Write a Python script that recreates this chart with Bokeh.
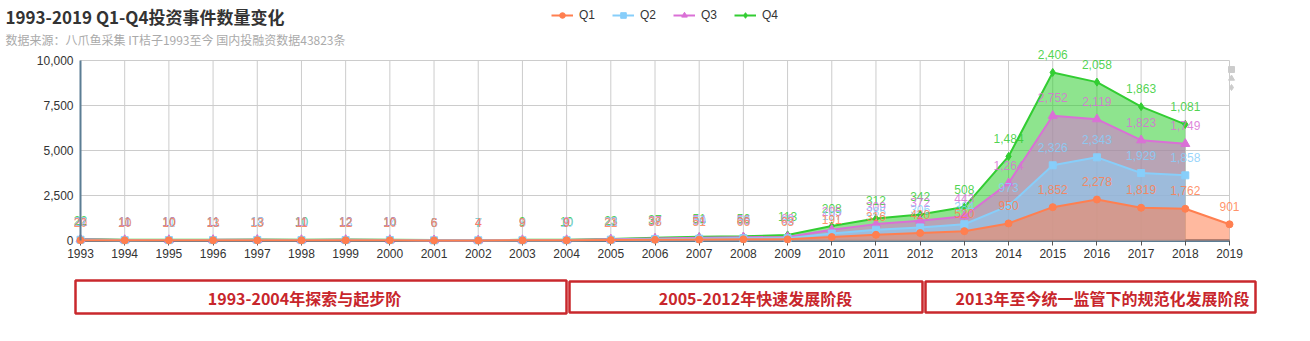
from bokeh.plotting import figure
from bokeh.models import (Range1d, FixedTicker, NumeralTickFormatter, Label, Legend, LegendItem)
from bokeh.embed import file_html
from bokeh.resources import INLINE
from bokeh.core.properties import value

years = list(range(1993, 2020))
q1 = [20, 10, 10, 13, 13, 11, 12, 10, 6, 4, 9, 9, 21, 38, 51, 66, 63, 191, 316, 420, 520, 950, 1852, 2278, 1819, 1762, 901]
q2 = [22, 10, 11, 11, 18, 10, 13, 14, 5, 7, 8, 10, 22, 36, 50, 58, 65, 197, 285, 306, 384, 973, 2326, 2343, 1929, 1858, None]
q3 = [21, 11, 10, 11, 13, 11, 12, 10, 6, 4, 9, 9, 23, 37, 54, 56, 69, 205, 309, 372, 443, 1264, 2752, 2119, 1823, 1749, None]
q4 = [22, 11, 10, 11, 13, 10, 12, 10, 6, 7, 9, 10, 23, 37, 51, 56, 113, 208, 312, 342, 508, 1484, 2406, 2058, 1863, 1081, None]
series_names = ["Q1", "Q2", "Q3", "Q4"]
y_ticks = [0, 2500, 5000, 7500, 10000]
title_text = "1993-2019 Q1-Q4投资事件数量变化"
subtitle_text = "数据来源：八爪鱼采集 IT桔子1993至今 国内投融资数据43823条"
phase_labels = ["1993-2004年探索与起步阶", "2005-2012年快速发展阶段", "2013年至今统一监管下的规范化发展阶段"]

colors = ["#ff7f50", "#87cefa", "#da70d6", "#32cd32"]
markers = ["circle", "square", "triangle", "diamond"]
msizes = [7, 7, 9, 8]

# ---- layout (pixels) ----
W, H = 1310, 341
PX_LEFT, PX_RIGHT, PX_TOP, PX_BOTTOM = 80, 1229, 60, 240
x_lo, x_hi = years[0], years[-1]
y_lo, y_hi = y_ticks[0], y_ticks[-1]
x_per_px = (x_hi - x_lo) / (PX_RIGHT - PX_LEFT)
y_per_px = (y_hi - y_lo) / (PX_BOTTOM - PX_TOP)
x_start = x_lo - PX_LEFT * x_per_px
x_end = x_hi + (W - PX_RIGHT) * x_per_px
y_end = y_hi + PX_TOP * y_per_px
y_start = y_lo - (H - PX_BOTTOM) * y_per_px


def dx(px):
    return x_start + px * x_per_px


def dy(py):
    return y_end - py * y_per_px


series = [q1, q2, q3, q4]
stacks = []
running = [0] * len(years)
for s in series:
    xs, tops, vals = [], [], []
    for j, v in enumerate(s):
        if v is None:
            continue
        running[j] += v
        xs.append(years[j])
        tops.append(running[j])
        vals.append(v)
    stacks.append((xs, tops, vals))

p = figure(width=W, height=H, x_range=Range1d(x_start, x_end), y_range=Range1d(y_start, y_end),
           toolbar_location=None, output_backend="svg",
           min_border_left=0, min_border_right=0, min_border_top=0, min_border_bottom=0)
p.outline_line_color = None
p.background_fill_color = "white"
p.xgrid.visible = False
p.ygrid.visible = False

# grid lines at the ticks
p.segment(x0=years, x1=years, y0=[y_lo] * len(years), y1=[y_hi] * len(years),
          line_color="#cccccc", line_width=1, level="underlay")
p.segment(x0=[x_lo] * (len(y_ticks) - 1), x1=[x_hi] * (len(y_ticks) - 1), y0=y_ticks[1:], y1=y_ticks[1:],
          line_color="#cccccc", line_width=1, level="underlay")

# areas: Q4 painted first, Q1 last
for i in [3, 2, 1, 0]:
    xs, tops, vals = stacks[i]
    p.varea(x=xs, y1=[0] * len(xs), y2=tops, fill_color=colors[i], fill_alpha=0.55)

rends = {}
for i in [3, 2, 1, 0]:
    xs, tops, vals = stacks[i]
    lr = p.line(xs, tops, line_color=colors[i], line_width=2)
    mr = p.scatter(xs, tops, marker=markers[i], size=msizes[i], fill_color=colors[i], line_color=colors[i])
    rends[i] = (lr, mr)

for i in [3, 2, 1, 0]:
    xs, tops, vals = stacks[i]
    p.text(x=xs, y=tops, text=[f"{v:,}" for v in vals], text_color=colors[i], text_alpha=0.85,
           text_align="center", text_baseline="middle", y_offset=-18,
           text_font=value("Liberation Sans"), text_font_size="12px")

# axes drawn at fixed locations inside the frame
p.xaxis.fixed_location = y_lo
p.yaxis.fixed_location = x_lo
p.xaxis.bounds = (x_lo, x_hi)
p.yaxis.bounds = (y_lo, y_hi)
p.xaxis.level = "underlay"
p.xaxis.ticker = FixedTicker(ticks=years)
p.yaxis.ticker = FixedTicker(ticks=y_ticks)
p.yaxis.formatter = NumeralTickFormatter(format="0,0")
for ax in (p.xaxis, p.yaxis):
    ax.axis_line_color = "#5b7d94"
    ax.axis_line_width = 2
    ax.major_label_text_font = "Liberation Sans"
    ax.major_label_text_font_size = "12px"
    ax.major_label_text_color = "#333333"
    ax.minor_tick_line_color = None
p.xaxis.axis_line_width = 3
p.xaxis.major_tick_in = 0
p.xaxis.major_tick_out = 5
p.xaxis.major_tick_line_color = "#555555"
p.xaxis.major_label_standoff = 3
p.yaxis.major_tick_line_color = None
p.yaxis.major_tick_in = 0
p.yaxis.major_tick_out = 0
p.yaxis.major_label_standoff = 7

# legend
items = [LegendItem(label=series_names[i], renderers=list(rends[i])) for i in range(4)]
legend = Legend(items=items, orientation="horizontal", location=(551, H - 22),
                border_line_color=None, background_fill_alpha=0,
                label_text_font="Liberation Sans", label_text_font_size="12px", label_text_color="#333333",
                glyph_width=22, glyph_height=14, label_height=14, label_standoff=6,
                spacing=13, padding=2, margin=0)
p.add_layout(legend)

# small grey symbols at the top right
p.scatter(x=[dx(1231)] * 3, y=[dy(69), dy(78), dy(87)], marker=["square", "triangle", "diamond"],
          size=6, fill_color="#cccccc", line_color="#cccccc")

# titles
p.add_layout(Label(x=5, y=H - 3, x_units="screen", y_units="screen", text=title_text,
                   text_font="Noto Sans CJK SC", text_font_size="17px", text_font_style="bold",
                   text_color="#333333", text_baseline="top"))
p.add_layout(Label(x=5, y=H - 30, x_units="screen", y_units="screen", text=subtitle_text,
                   text_font="Noto Sans CJK SC", text_font_size="12px",
                   text_color="#aaaaaa", text_baseline="top"))

# phase boxes
p.quad(left=[dx(75), dx(569), dx(925)], right=[dx(566), dx(922), dx(1255)],
       top=[dy(280), dy(281), dy(281)], bottom=[dy(313), dy(312), dy(312)],
       fill_color=None, line_color="#c9282d", line_width=2.5)
for cx, txt in zip([304, 755, 1102], phase_labels):
    p.add_layout(Label(x=cx, y=H - 297, x_units="screen", y_units="screen", text=txt,
                       text_font="Noto Sans CJK SC", text_font_size="16px", text_font_style="bold",
                       text_color="#c8262c", text_align="center", text_baseline="middle"))

open("out.html", "w").write(file_html(p, INLINE))
